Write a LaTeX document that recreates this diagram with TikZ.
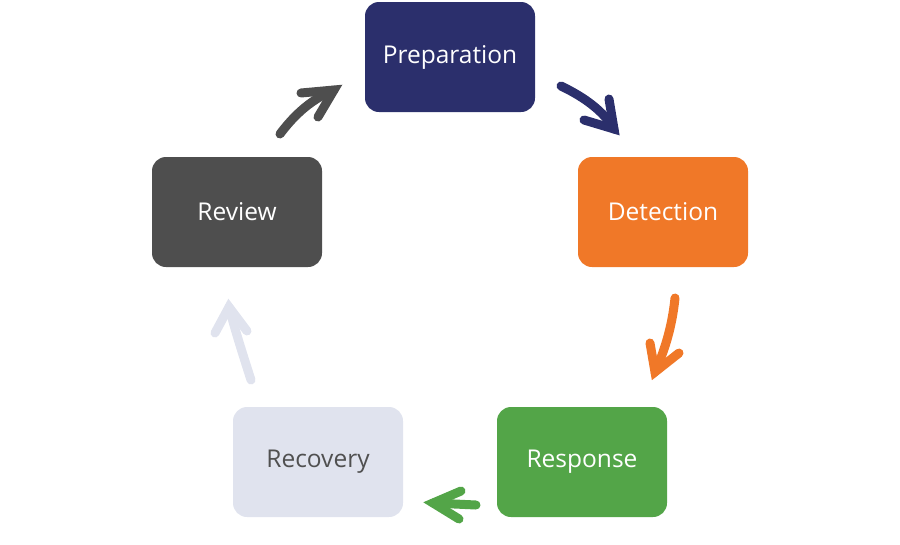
\documentclass[tikz,border=0pt]{standalone}
\usepackage{fontspec}
\setmainfont{Open Sans}
\definecolor{prep}{HTML}{2B2F6C}
\definecolor{det}{HTML}{F07828}
\definecolor{rev}{HTML}{4E4E4E}
\definecolor{resp}{HTML}{53A548}
\definecolor{reco}{HTML}{E0E3EE}
\definecolor{recotext}{HTML}{505050}
\begin{document}
\begin{tikzpicture}[x=1pt,y=-1pt,
  stage/.style={rounded corners=14pt, minimum width=170pt, minimum height=110pt, inner sep=0pt, font=\fontsize{24.5}{28}\selectfont, text=white},
  shaft/.style={line width=9pt, line cap=round},
  chev/.style={line width=9pt, line cap=round, line join=miter}]
\useasboundingbox (0,0) rectangle (900,544);
\node[stage, fill=prep] (prep) at (450,57) {\raisebox{-1.5pt}{Preparation}};
\node[stage, fill=det] (det) at (663,212) {\raisebox{-1.5pt}{Detection}};
\node[stage, fill=rev] (rev) at (237,212) {\raisebox{-1.5pt}{Review}};
\node[stage, fill=resp] (resp) at (582,462) {\raisebox{-1.5pt}{Response}};
\node[stage, fill=reco, text=recotext] (reco) at (318,462) {\raisebox{-1.5pt}{Recovery}};
% arrow 1 review -> preparation
\coordinate (a1s) at (280,134); \coordinate (a1t) at (334,90);
\coordinate (a1b) at (301,93); \coordinate (a1c) at (318,117);
\draw[shaft, rev] (a1s) .. controls (295,114) and (312,99) .. (a1t);
\draw[chev, rev] (a1b) -- (a1t) -- (a1c);
% arrow 2 preparation -> detection
\coordinate (a2s) at (561,86); \coordinate (a2t) at (614,129);
\coordinate (a2b) at (584,120); \coordinate (a2c) at (609,99);
\draw[shaft, prep] (a2s) .. controls (586,98) and (604,112) .. (a2t);
\draw[chev, prep] (a2b) -- (a2t) -- (a2c);
% arrow 3 detection -> response
\coordinate (a3s) at (675,298); \coordinate (a3t) at (655,372);
\coordinate (a3b) at (650,343); \coordinate (a3c) at (679,353);
\draw[shaft, det] (a3s) .. controls (672,328) and (664,352) .. (a3t);
\draw[chev, det] (a3b) -- (a3t) -- (a3c);
% arrow 4 response -> recovery
\coordinate (a4s) at (476,505); \coordinate (a4t) at (433,503);
\coordinate (a4b) at (461,491); \coordinate (a4c) at (459,519);
\draw[shaft, resp] (a4s) -- (a4t);
\draw[chev, resp] (a4b) -- (a4t) -- (a4c);
% arrow 5 recovery -> review
\coordinate (a5s) at (251,380); \coordinate (a5t) at (229,307);
\coordinate (a5b) at (215,333); \coordinate (a5c) at (247,331);
\draw[shaft, reco] (a5s) .. controls (243,355) and (235,330) .. (a5t);
\draw[chev, reco] (a5b) -- (a5t) -- (a5c);
\end{tikzpicture}
\end{document}
